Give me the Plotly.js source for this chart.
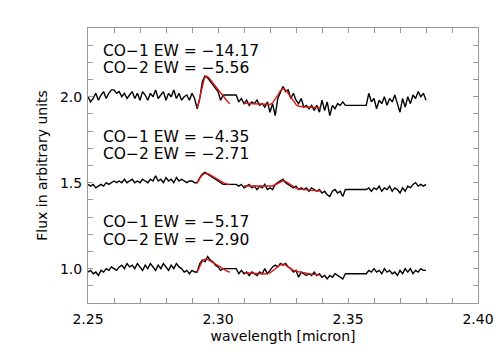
<!DOCTYPE html>
<html>
<head>
<meta charset="utf-8">
<script src="https://cdn.plot.ly/plotly-3.0.1.min.js"></script>
<style>
  html, body { margin: 0; padding: 0; background: #fff; }
  #plot { width: 504px; height: 360px; }
</style>
</head>
<body>
<div id="plot"></div>
<script>
// wavelength grid of the spectra [micron]; gaps at 2.302-2.307 and 2.349-2.357
const wave = [
  2.250,2.251,2.252,2.253,2.254,2.255,2.256,2.257,2.258,2.259,
  2.260,2.261,2.262,2.263,2.264,2.265,2.266,2.267,2.268,2.269,
  2.270,2.271,2.272,2.273,2.274,2.275,2.276,2.277,2.278,2.279,
  2.280,2.281,2.282,2.283,2.284,2.285,2.286,2.287,2.288,2.289,
  2.290,2.291,2.292,2.293,2.294,2.295,2.296,2.297,2.298,2.299,
  2.300,2.301,2.302,
  2.307,2.308,2.309,2.310,2.311,2.312,2.313,2.314,2.315,2.316,
  2.317,2.318,2.319,2.320,2.321,2.322,2.323,2.324,2.325,2.326,
  2.327,2.328,2.329,2.330,2.331,2.332,2.333,2.334,2.335,2.336,
  2.337,2.338,2.339,2.340,2.341,2.342,2.343,2.344,2.345,2.346,
  2.347,2.348,2.349,
  2.357,2.358,2.359,2.360,2.361,2.362,2.363,2.364,2.365,2.366,
  2.367,2.368,2.369,2.370,2.371,2.372,2.373,2.374,2.375,2.376,
  2.377,2.378,2.379,2.380
];

const fluxTop = [
  2.00,1.97,1.99,2.02,1.98,2.01,2.03,1.99,2.02,2.04,
  2.04,2.02,2.03,2.00,2.02,1.99,2.01,2.03,1.99,2.02,
  1.98,2.03,2.01,1.98,2.02,2.00,2.04,1.99,2.01,2.03,
  1.98,2.02,2.00,2.04,1.99,2.02,1.98,2.00,2.01,1.98,
  2.02,1.99,1.93,1.99,2.09,2.12,2.11,2.09,2.07,2.05,
  2.03,1.98,2.01,
  2.01,1.97,1.99,1.96,1.98,1.95,1.97,1.96,1.98,1.95,
  1.96,1.94,1.97,1.91,1.96,1.89,1.99,2.03,2.06,2.03,
  2.04,1.99,2.02,1.98,1.96,1.99,1.94,1.95,1.93,1.95,
  1.92,1.95,1.91,1.98,1.92,1.97,1.89,1.95,1.93,1.96,
  1.95,1.97,1.95,
  1.95,2.02,1.97,1.99,1.93,1.98,1.96,2.00,1.95,1.99,
  1.97,2.01,1.96,1.91,1.99,1.94,2.00,1.96,2.01,1.99,
  2.03,2.00,2.02,1.98
];

const fluxMid = [
  1.49,1.48,1.49,1.47,1.48,1.49,1.48,1.50,1.49,1.50,
  1.51,1.50,1.51,1.50,1.52,1.50,1.51,1.52,1.50,1.51,
  1.50,1.52,1.51,1.50,1.52,1.51,1.54,1.51,1.52,1.50,
  1.53,1.51,1.52,1.50,1.53,1.51,1.52,1.51,1.50,1.51,
  1.51,1.50,1.50,1.53,1.55,1.56,1.55,1.54,1.53,1.52,
  1.51,1.50,1.49,
  1.49,1.48,1.49,1.47,1.48,1.49,1.47,1.48,1.46,1.48,
  1.47,1.49,1.46,1.47,1.46,1.49,1.50,1.51,1.52,1.50,
  1.49,1.48,1.47,1.48,1.46,1.47,1.46,1.47,1.45,1.47,
  1.46,1.45,1.46,1.44,1.45,1.43,1.42,1.45,1.46,1.44,
  1.45,1.42,1.46,
  1.46,1.47,1.45,1.47,1.46,1.48,1.45,1.47,1.46,1.48,
  1.45,1.47,1.46,1.44,1.47,1.45,1.48,1.47,1.49,1.50,
  1.48,1.49,1.48,1.49
];

const fluxBot = [
  0.98,0.99,0.97,0.98,0.96,0.99,0.98,1.00,0.99,1.01,
  1.00,0.99,1.01,1.02,1.00,1.03,1.01,1.02,1.00,1.03,
  1.01,0.99,1.02,1.00,1.03,1.01,0.99,1.02,1.00,1.03,
  1.01,0.99,1.02,1.00,1.03,1.01,1.00,0.98,0.99,0.97,
  0.99,0.98,0.98,1.03,1.05,1.04,1.07,1.05,1.04,1.02,
  1.01,0.99,1.00,
  1.00,0.97,0.99,0.97,0.98,0.96,0.98,0.97,0.96,0.98,
  0.97,1.00,0.97,0.99,1.01,1.02,1.01,1.03,1.02,1.03,
  1.01,1.00,0.98,0.99,0.95,0.98,0.97,0.96,0.97,0.96,
  0.98,0.96,0.97,0.95,0.96,0.94,0.96,0.95,0.97,0.96,
  0.95,0.94,0.97,
  0.97,0.99,0.98,1.00,0.98,0.99,0.97,1.00,0.98,0.99,
  0.97,0.98,0.96,0.99,0.97,1.00,0.98,1.00,0.97,0.99,
  0.98,1.00,0.99,0.99
];

// model fits of the CO bandheads
const waveCO1 = [2.2918,2.2925,2.2932,2.2940,2.2948,2.2956,2.2965,2.2975,
                 2.2985,2.2995,2.3005,2.3015,2.3025,2.3035,2.3045];
const fitCO1Top = [1.935,1.96,2.01,2.07,2.11,2.12,2.11,2.09,2.07,2.05,2.03,2.01,1.99,1.975,1.96];
const fitCO1Mid = [1.50,1.51,1.53,1.545,1.553,1.555,1.55,1.54,1.53,1.52,1.51,1.505,1.497,1.49,1.487];
const fitCO1Bot = [0.982,0.995,1.02,1.045,1.054,1.055,1.05,1.04,1.03,1.02,1.01,1.0,0.993,0.985,0.979];

const waveCO2 = [2.310,2.312,2.314,2.316,2.318,2.320,2.321,2.322,2.323,2.324,2.325,
                 2.326,2.327,2.328,2.329,2.330,2.331,2.332,2.334,2.336,2.338,2.3395];
const fitCO2Top = [1.962,1.960,1.957,1.955,1.953,1.955,1.965,1.985,2.01,2.035,2.047,
                   2.04,2.02,1.995,1.975,1.955,1.945,1.942,1.940,1.939,1.938,1.937];
const fitCO2Mid = [1.481,1.481,1.480,1.480,1.479,1.479,1.481,1.488,1.497,1.505,1.510,
                   1.508,1.498,1.485,1.475,1.468,1.464,1.461,1.458,1.455,1.453,1.452];
const fitCO2Bot = [0.976,0.974,0.972,0.970,0.969,0.975,0.985,0.998,1.012,1.022,1.025,
                   1.02,1.01,0.998,0.99,0.985,0.982,0.978,0.973,0.968,0.965,0.963];

const ewLabels = ["CO\u22121 EW = \u221214.17", "CO\u22122 EW = \u22125.56",
                  "CO\u22121 EW = \u22124.35",  "CO\u22122 EW = \u22122.71",
                  "CO\u22121 EW = \u22125.17",  "CO\u22122 EW = \u22122.90"];

const FONT = "DejaVu Sans, sans-serif";
const labelX = 2.255;
const labelY = [2.268, 2.166, 1.768, 1.667, 1.273, 1.166];

const data = [];
[fluxTop, fluxMid, fluxBot].forEach(function(f) {
    data.push({x: wave, y: f, type: "scatter", mode: "lines",
               line: {color: "#000", width: 1.4}, hoverinfo: "skip"});
});
[[fitCO1Top, fitCO2Top], [fitCO1Mid, fitCO2Mid], [fitCO1Bot, fitCO2Bot]].forEach(function(p) {
    data.push({x: waveCO1, y: p[0], type: "scatter", mode: "lines",
               line: {color: "#d81818", width: 1.4}, hoverinfo: "skip"});
    data.push({x: waveCO2, y: p[1], type: "scatter", mode: "lines",
               line: {color: "#d81818", width: 1.4}, hoverinfo: "skip"});
});

const annotations = ewLabels.map(function(t, i) {
    return {x: labelX, y: labelY[i], xref: "x", yref: "y", text: t,
            showarrow: false, xanchor: "left", yanchor: "middle",
            font: {family: FONT, size: 15.5, color: "#000"}};
});

// ticks every 0.01 (x) / 0.1 (y), labels only on some of them, so the
// mirrored top/right axes also get all the small ticks
function tickSet(lo, hi, step, every, digits) {
    const vals = [], txt = [];
    const n = Math.round((hi - lo) / step);
    for (let i = 0; i <= n; i++) {
        const v = +(lo + i * step).toFixed(4);
        vals.push(v);
        txt.push(i % every == 0 ? v.toFixed(digits) : "");
    }
    return {vals: vals, txt: txt};
}
const xt = tickSet(2.25, 2.40, 0.01, 5, 2);
const yt = tickSet(0.8, 2.4, 0.1, 5, 1);
// y labels at 1.0, 1.5, 2.0 (index offset 2 from 0.8)
yt.txt = yt.vals.map(function(v, i) { return (i - 2) % 5 == 0 ? v.toFixed(1) : ""; });

const axisCommon = {
    showgrid: false, zeroline: false,
    showline: true, linecolor: "#999", linewidth: 1, mirror: "ticks",
    ticks: "inside", ticklen: 5, tickcolor: "#999", tickwidth: 1,
    tickmode: "array",
    tickfont: {family: FONT, size: 14, color: "#000"}
};

const layout = {
    width: 504, height: 360,
    margin: {l: 88, r: 26, t: 28, b: 57},
    paper_bgcolor: "#fff", plot_bgcolor: "#fff",
    showlegend: false,
    xaxis: Object.assign({}, axisCommon, {
        range: [2.25, 2.40], tickvals: xt.vals, ticktext: xt.txt,
        ticklabelstandoff: 3,
        title: {text: "wavelength [micron]", standoff: 5,
                font: {family: FONT, size: 14, color: "#000"}}
    }),
    yaxis: Object.assign({}, axisCommon, {
        range: [0.8, 2.4], tickvals: yt.vals, ticktext: yt.txt,
        ticklabelstandoff: 2,
        title: {text: "Flux in arbitrary units", standoff: 9,
                font: {family: FONT, size: 14, color: "#000"}}
    }),
    annotations: annotations
};

Plotly.newPlot("plot", data, layout, {staticPlot: true, displayModeBar: false});
</script>
</body>
</html>
